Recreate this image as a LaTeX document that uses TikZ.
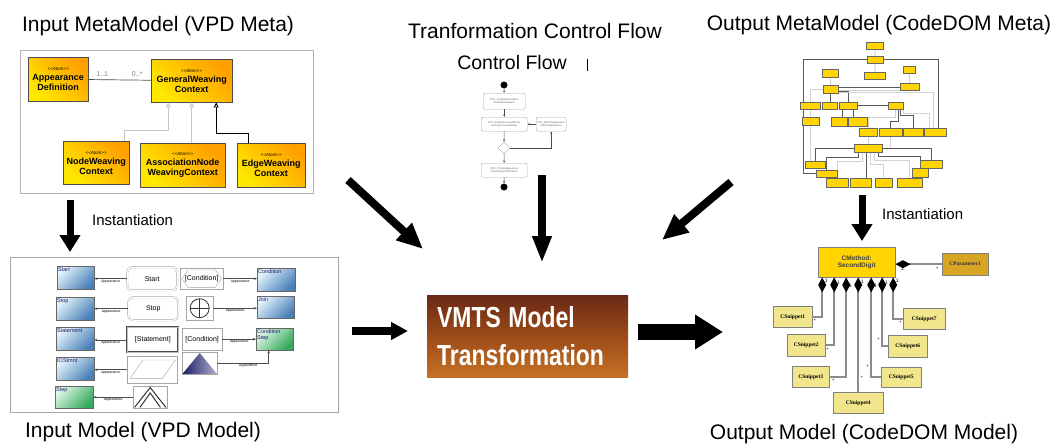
\documentclass[tikz,border=0pt]{standalone}
\usepackage{graphicx}
\usepackage{fontspec}
\setmainfont{Liberation Sans}
\newfontfamily\serifbox{Liberation Serif}
\usetikzlibrary{arrows.meta,shapes.geometric}

\definecolor{atomyel}{HTML}{FFE800}
\definecolor{atomorg}{HTML}{FFA000}
\definecolor{bluelt}{HTML}{E2F3FB}
\definecolor{bluedk}{HTML}{4A80B8}
\definecolor{grnlt}{HTML}{DDF7E6}
\definecolor{grndk}{HTML}{35A85A}
\definecolor{navy}{HTML}{1C1C6A}
\definecolor{brtop}{HTML}{6A2914}
\definecolor{brmid}{HTML}{9C4B19}
\definecolor{brbot}{HTML}{C47224}
\definecolor{gold}{HTML}{FFD400}
\definecolor{goldrod}{HTML}{D8A523}
\definecolor{khaki}{HTML}{F2E68C}
\definecolor{compgray}{HTML}{8C8C8C}

\newcommand{\atomtag}{{\fontsize{4.5}{5}\selectfont\mdseries\itshape <{}<Atom>{}>}}

\begin{document}
\begin{tikzpicture}[x=1pt,y=-1pt]
    \tikzstyle{title}=[font=\fontsize{21}{24}\selectfont,inner sep=0]
    \tikzstyle{box}=[anchor=north west,inner sep=0,align=center]
    \tikzstyle{atom}=[box,draw=black!70,top color=atomorg,bottom color=atomyel,shading angle=-45,font=\fontsize{9}{10}\selectfont\bfseries]
    \tikzstyle{inh}=[-{Triangle[open,width=5pt,length=5pt]},line width=0.9pt]
    \tikzstyle{shp}=[box,draw=gray!70,font=\fontsize{7}{8}\selectfont]
    \tikzstyle{app}=[-{Stealth[length=3pt,width=2.5pt]},draw=black!70,line width=0.6pt]
    \tikzstyle{applbl}=[font=\fontsize{3.5}{4}\selectfont,inner sep=0.6pt,below]
    \tikzstyle{cfbox}=[box,draw=gray!70,rounded corners=2pt,font=\fontsize{2.6}{3.4}\selectfont,text=gray!80!black]
    \tikzstyle{cfarr}=[-{Stealth[length=2.5pt,width=2pt]},draw=gray!60!black,line width=0.4pt]
    \tikzstyle{cdm}=[box,draw=black!60,fill=gold,line width=0.5pt]
    \tikzstyle{mline}=[draw=gray!70!black,line width=0.8pt]
    \tikzstyle{mlight}=[draw=gray!35,line width=1pt]
    \tikzstyle{snip}=[box,draw=gray,fill=khaki,font=\serifbox\fontsize{5.5}{6}\selectfont\bfseries]
    \tikzstyle{mult}=[font=\fontsize{5}{5}\selectfont,inner sep=1.5pt]
    \tikzstyle{inst}=[font=\fontsize{15}{16}\selectfont,anchor=west,inner sep=0]
    \tikzset{sz/.style 2 args={minimum width=#1pt,minimum height=#2pt},
      comp/.style={draw=compgray,line width=2.4pt,{Diamond[length=15pt,width=8pt,color=black]}-},
      vpd/.style={box,draw=black!60,top color=bluelt,bottom color=bluedk,shading angle=45,
        label={[anchor=north west,inner sep=1pt,font=\fontsize{5.5}{6}\selectfont,text=navy,align=left]north west:#1}},
      vpdg/.style={box,draw=black!60,top color=grnlt,bottom color=grndk,shading angle=45,
        label={[anchor=north west,inner sep=1pt,font=\fontsize{5.5}{6}\selectfont,text=navy,align=left]north west:#1}},
      big/.style n args={3}{line width=#1pt,-{Triangle[width=#2pt,length=#3pt]}}}

    \useasboundingbox (0,0) rectangle (1051,444);

    % titles
    \node[title] (tInMeta) at (158,26) {Input MetaModel (VPD Meta)};
    \node[title] (tCF) at (535,31) {Tranformation Control Flow};
    \node[title,font=\fontsize{19.5}{22}\selectfont] (tCF2) at (512,63) {Control Flow};
    \node[title] (tOutMeta) at (879,25) {Output MetaModel (CodeDOM Meta)};
    \node[title] (tInModel) at (143,432) {Input Model (VPD Model)};
    \node[title] (tOutModel) at (864,434) {Output Model (CodeDOM Model)};
    \draw[line width=0.8pt] (587,59) -- (587,71);

    % input metamodel
    \draw[gray!60,line width=0.8pt] (20,50) rectangle (313,193);
    \node[atom,sz={60}{44}] (appdef) at (28,57) {\atomtag\\Appearance\\Definition};
    \node[atom,sz={81}{43}] (genctx) at (151,59) {\atomtag\\GeneralWeaving\\Context};
    \node[atom,sz={66}{43}] (nodectx) at (63,141) {\atomtag\\NodeWeaving\\Context};
    \node[atom,sz={85}{44}] (assocctx) at (140,143) {\atomtag\\AssociationNode\\WeavingContext};
    \node[atom,sz={68}{44}] (edgectx) at (237,143) {\atomtag\\EdgeWeaving\\Context};

    \draw[black!70,line width=0.7pt] (appdef) -- (genctx)
        node[pos=0.22,above,font=\fontsize{7}{8}\selectfont,text=gray] {1..1}
        node[pos=0.78,above,font=\fontsize{7}{8}\selectfont,text=gray] {0..*};
    \draw[inh,gray!45] ([xshift=-5pt]nodectx.north east) -- ++(0,-11) -| ([xshift=-23.5pt]genctx.south);
    \draw[inh,gray!45] (genctx.south |- assocctx.north) -- (genctx.south);
    \draw[inh,black] ([xshift=-23pt]edgectx.north) -- ++(0,-10) -| ([xshift=24.5pt]genctx.south);

    \coordinate (iL1) at (70,200);
    \coordinate (iL2) at (70,252);
    \draw[big={7}{20}{17}] (iL1) -- (iL2);
    \node[inst] (instL) at (92,220) {Instantiation};

    % input model
    \draw[gray!70,line width=0.8pt] (10,257) rectangle (338,412);
    \node[vpd=Start,sz={37}{23}] (bStart) at (57,266) {};
    \node[shp,sz={50}{23},rounded corners=5pt,double=white,double distance=1.2pt] (rStart) at (127,267) {Start};
    \node[shp,sz={43}{21}] (hCond) at (180,268) {[Condition]};
    \draw[gray!70] ([xshift=2pt]hCond.west) -- ([xshift=8pt,yshift=-2pt]hCond.north west) -- ([xshift=-8pt,yshift=-2pt]hCond.north east) -- ([xshift=-2pt]hCond.east) -- ([xshift=-8pt,yshift=2pt]hCond.south east) -- ([xshift=8pt,yshift=2pt]hCond.south west) -- cycle;
    \node[vpd=Condition,sz={38}{23}] (bCond) at (257,268) {};
    \draw[app] (rStart.west) -- (rStart.west -| bStart.east) node[applbl,midway] {Appearance};
    \draw[app] (hCond.east) -- (hCond.east -| bCond.west) node[applbl,midway] {Appearance};

    \node[vpd=Stop,sz={38}{23}] (bStop) at (56,297) {};
    \node[shp,sz={50}{23},rounded corners=5pt,double=white,double distance=1.2pt] (rStop) at (128,297) {Stop};
    \node[shp,sz={27}{24}] (cJoin) at (186,296) {};
    \draw[black!80,line width=0.8pt] (cJoin.center) circle (9.5pt);
    \draw[black!80,line width=0.8pt] ([xshift=-9.5pt]cJoin.center) -- ([xshift=9.5pt]cJoin.center) ([yshift=-9.5pt]cJoin.center) -- ([yshift=9.5pt]cJoin.center);
    \node[vpd=Join,sz={37}{22}] (bJoin) at (257,296) {};
    \draw[app] (rStop.west) -- (rStop.west -| bStop.east) node[applbl,midway] {Appearance};
    \draw[app] (cJoin.east) -- (cJoin.east -| bJoin.west) node[applbl,midway] {Appearance};

    \node[vpd=Statement,sz={38}{23}] (bStmt) at (56,327) {};
    \node[shp,sz={51}{25},draw=black!70,line width=0.7pt,double=gray!50,double distance=0.5pt] (sStmt) at (127,327) {[Statement]};
    \node[shp,sz={40}{22}] (sCond) at (182,328) {[Condition]};
    \node[vpdg={Condition\\Step},sz={37}{22}] (gCondStep) at (256,328) {};
    \draw[app] (sStmt.west) -- (sStmt.west -| bStmt.east) node[applbl,midway] {Appearance};
    \draw[app] (sCond.east) -- (sCond.east -| gCondStep.west) node[applbl,midway] {Appearance};

    \node[vpd=IOStmnt,sz={38}{23}] (bIO) at (56,357) {};
    \node[shp,sz={50}{27}] (pIO) at (127,356) {};
    \draw[gray!70] ([xshift=3pt,yshift=5pt]pIO.south west) -- ([xshift=16pt,yshift=-4pt]pIO.north west) -- ([xshift=-2pt,yshift=-4pt]pIO.north east) -- ([xshift=-15pt,yshift=5pt]pIO.south east) -- cycle;
    \node[shp,sz={35}{22}] (tri) at (182,352) {};
    \shade[left color=navy,right color=navy!35] ([xshift=0.5pt,yshift=0.5pt]tri.south west) -- ([yshift=-1pt]tri.north) -- ([xshift=-0.5pt,yshift=0.5pt]tri.south east) -- cycle;
    \draw[app] (pIO.west) -- (pIO.west -| bIO.east) node[applbl,midway] {Appearance};
    \draw[app] (tri.east) -| ([xshift=-6pt]gCondStep.south) node[applbl,pos=0.3] {AppliedEnd};

    \node[vpdg=Step,sz={38}{22}] (gStep) at (55,386) {};
    \node[shp,sz={34}{22}] (chev) at (133,386) {};
    \draw[black!80,line width=1pt] ([xshift=1.5pt,yshift=1pt]chev.south west) -- ([yshift=-1.5pt]chev.north) -- ([xshift=-1.5pt,yshift=1pt]chev.south east);
    \draw[black!80,line width=1pt] ([xshift=7pt,yshift=1pt]chev.south west) -- ([yshift=-7pt]chev.north) -- ([xshift=-7pt,yshift=1pt]chev.south east);
    \draw[app] (chev.west) -- (chev.west -| gStep.east) node[applbl,midway] {Appearance};

    % control flow
    \node[circle,fill=black,minimum size=7pt,inner sep=0] (cfS) at (504,85) {};
    \node[cfbox,sz={42}{16}] (cf1) at (483,93) {VPD\_CreateNamespace\\CreateNamespace};
    \node[cfbox,sz={46}{14}] (cf2) at (481,117) {VPD\_GetUnprocessedNode\\GetUnprocessedNode};
    \node[cfbox,sz={30}{14}] (cf3) at (536,117) {VPD\_MatchAppearance\\MatchAppearance};
    \node[diamond,draw=gray!70,minimum size=12pt,inner sep=0] (cfD) at (504,148) {};
    \node[cfbox,sz={46}{14}] (cf4) at (481,163) {VPD\_CheckAppearance\\CheckAdaptInformation};
    \node[circle,fill=black,minimum size=7pt,inner sep=0] (cfE) at (504,187) {};
    \draw[cfarr] (cfS) -- (cf1);
    \draw[cfarr] (cf1) -- (cf2);
    \draw[cfarr] (cf2) -- (cfD);
    \draw[cfarr] (cfD) -- (cf4);
    \draw[cfarr] (cf4) -- (cfE);
    \draw[cfarr] (cf3) -- (cf2);
    \draw[cfarr] (cfD.east) -| (cf3.south);

    % transformation
    \node[box,top color=brtop,bottom color=brbot,middle color=brmid,sz={201}{82},text width=181pt,align=left,text=white,font=\fontsize{29}{38}\selectfont\bfseries] (vmts) at (427,295) {\scalebox{0.79}[1]{VMTS Model}\\\scalebox{0.79}[1]{Transformation}};

    \coordinate (dL1) at (348,180);
    \coordinate (dL2) at (423,249);
    \draw[big={8}{22}{26}] (dL1) -- (dL2);
    \coordinate (cfA1) at (542,175);
    \coordinate (cfA2) at (542,263);
    \draw[big={8}{18}{27}] (cfA1) -- (cfA2);
    \coordinate (dR1) at (731,182);
    \coordinate (dR2) at (662,240);
    \draw[big={8}{22}{26}] (dR1) -- (dR2);
    \coordinate (hL1) at (352,331);
    \coordinate (hL2) at (408,331);
    \draw[big={8}{17}{17}] (hL1) -- (hL2);
    \coordinate (hR1) at (638,332);
    \coordinate (hR2) at (723,332);
    \draw[big={16}{33}{28}] (hR1) -- (hR2);

    % output metamodel
    \node[cdm,sz={17}{7}] (m1) at (866,42) {};
    \node[cdm,sz={16}{7}] (m2) at (867,56) {};
    \node[cdm,sz={21}{7}] (m3) at (864,72) {};
    \node[cdm,sz={12}{7}] (m4) at (903,66) {};
    \node[cdm,sz={16}{8}] (m5) at (822,69) {};
    \node[cdm,sz={15}{8}] (m6) at (823,85) {};
    \node[cdm,sz={19}{7}] (m7) at (900,83) {};
    \node[cdm,sz={20}{7}] (m8) at (800,102) {};
    \node[cdm,sz={15}{7}] (m9) at (822,102) {};
    \node[cdm,sz={18}{7}] (m10) at (839,102) {};
    \node[cdm,sz={15}{7}] (m11) at (888,102) {};
    \node[cdm,sz={17}{8}] (m12) at (802,117) {};
    \node[cdm,sz={16}{9}] (m13) at (831,117) {};
    \node[cdm,sz={19}{9}] (m14) at (848,117) {};
    \node[cdm,sz={18}{8}] (m15) at (859,128) {};
    \node[cdm,sz={23}{8}] (m16) at (879,128) {};
    \node[cdm,sz={20}{8}] (m17) at (903,128) {};
    \node[cdm,sz={22}{8}] (m18) at (924,128) {};
    \node[cdm,sz={28}{8}] (m19) at (854,144) {};
    \node[cdm,sz={20}{7}] (m20) at (805,161) {};
    \node[cdm,sz={21}{7}] (m21) at (816,170) {};
    \node[cdm,sz={22}{9}] (m22) at (826,178) {};
    \node[cdm,sz={21}{9}] (m23) at (850,178) {};
    \node[cdm,sz={17}{9}] (m24) at (875,178) {};
    \node[cdm,sz={25}{9}] (m25) at (897,178) {};
    \node[cdm,sz={22}{8}] (m26) at (920,160) {};
    \node[cdm,sz={16}{9}] (m27) at (912,168) {};

    \draw[mlight] (m1) -- (m2);
    \draw[mlight] (m2) -- (m3);
    \draw[mline] (m2.west) -| ([xshift=3pt]m8.north west);
    \draw[mline] ([xshift=3pt]m8.south west) -- ([xshift=3pt]m8.south west |- m21.west) -- (m21.west);
    \draw[mline] (m2.east) -| ([xshift=3pt]m18.north);
    \draw[mlight] (m4) -- (m7);
    \draw[mline] ([yshift=1.5pt]m6.east) -- ([yshift=1.5pt]m6.east -| m7.west);
    \draw[mlight] ([yshift=-1.5pt]m6.east) -- ([yshift=-1.5pt]m6.east -| m7.west);
    \draw[mlight] (m5) -- (m6);
    \draw[mlight] (m6.west) -| (m8.north);
    \draw[mline] (m6.south) -- (m6.south |- m9.north);
    \draw[mline] ([yshift=2pt]m6.south east) -| (m10.north);
    \draw[mlight] ([yshift=-3pt]m6.east) -| ([xshift=-2pt]m18.north);
    \draw[mlight] (m8.south) -- (m8.south |- m12.north);
    \draw[mline] ([xshift=3pt]m10.south west) -- ([xshift=3pt]m10.south west |- m13.north);
    \draw[mline] ([xshift=-4pt]m10.south east) -- ([xshift=-4pt]m10.south east |- m14.north);
    \draw[mline] (m10.east) -- (m11.west);
    \draw[mlight] (m11.south) -- ++(0,8) -| (m15.north);
    \draw[mline] ([xshift=3pt]m11.south) -- ++(0,12) -| (m16.north);
    \draw[mline] ([xshift=5pt]m11.south) -- ++(0,6) -| (m17.north);
    \draw[mlight] (m11.south east) -- ++(0,4) -| ([xshift=-6pt]m18.north);
    \draw[mlight] (m15.south) -- (m15.south |- m19.north);
    \draw[mlight] (m16.south) |- (m19.east);
    \draw[mline] (m19.west) -| (m20.north);
    \draw[mlight] (m12.south) -- (m12.south |- m20.north);
    \draw[mline] ([xshift=-10pt]m19.south) -- ++(0,5) -| (m21.north);
    \draw[mlight] ([xshift=-6pt]m19.south) -- ++(0,9) -| (m22.north);
    \draw[mline] ([xshift=-2pt]m19.south) -- ([xshift=-2pt]m19.south |- m23.north);
    \draw[mlight] ([xshift=2pt]m19.south) -- ++(0,12) -| (m24.north);
    \draw[mlight] ([xshift=6pt]m19.south) -- ++(0,8) -| (m25.north);
    \draw[mline] ([xshift=10pt]m19.south) -- ++(0,4) -| (m27.north);
    \draw[mline] (m19.east) -| (m26.north);

    % redraw boxes above lines
    \foreach \m in {m1,m2,m3,m4,m5,m6,m7,m8,m9,m10,m11,m12,m13,m14,m15,m16,m17,m18,m19,m20,m21,m22,m23,m24,m25,m26,m27}
        \draw[black!60,fill=gold,line width=0.5pt] (\m.north west) rectangle (\m.south east);

    \coordinate (iR1) at (862,195);
    \coordinate (iR2) at (862,241);
    \draw[big={7}{20}{17}] (iR1) -- (iR2);
    \node[inst] (instR) at (882,214) {Instantiation};

    % output model
    \node[box,draw=gray,fill=gold,sz={77}{30},font=\fontsize{6.5}{7.5}\selectfont\bfseries,text=black!75] (cmeth) at (818,247) {CMethod:\\SecondDigit};
    \node[box,draw=gray,fill=goldrod,sz={46}{22},font=\serifbox\fontsize{5.5}{6}\selectfont\bfseries,text=black!80] (cparam) at (942,253) {CParameter1};
    \node[snip,sz={39}{21}] (sn1) at (773,306) {CSnippet1};
    \node[snip,sz={38}{22}] (sn2) at (787,334) {CSnippet2};
    \node[snip,sz={37}{21}] (sn3) at (792,366) {CSnippet3};
    \node[snip,sz={50}{21}] (sn4) at (833,392) {CSnippet4};
    \node[snip,sz={40}{20}] (sn5) at (881,367) {CSnippet5};
    \node[snip,sz={39}{22}] (sn6) at (888,335) {CSnippet6};
    \node[snip,sz={42}{21}] (sn7) at (903,308) {CSnippet7};

    \draw[comp] (cmeth.east |- cparam.west) -- (cparam.west) node[mult,pos=0.15,below] {1} node[mult,pos=0.9,below] {*};
    \draw[comp] ([xshift=-34.5pt]cmeth.south) |- (sn1.east) node[mult,pos=0.04,right] {1} node[mult,pos=0.88,below] {*};
    \draw[comp] ([xshift=-22.5pt]cmeth.south) |- (sn2.east) node[mult,pos=0.04,right] {1} node[mult,pos=0.88,below] {*};
    \draw[comp] ([xshift=-10.5pt]cmeth.south) |- (sn3.east) node[mult,pos=0.04,right] {1} node[mult,pos=0.88,below] {*};
    \draw[comp] ([xshift=1.5pt]cmeth.south) -- ([xshift=1.5pt]cmeth.south |- sn4.north) node[mult,pos=0.04,right] {1} node[mult,pos=0.88,right] {*};
    \draw[comp] ([xshift=14.5pt]cmeth.south) |- (sn5.west) node[mult,pos=0.04,right] {1} node[mult,pos=0.45,left] {*};
    \draw[comp] ([xshift=25.5pt]cmeth.south) |- (sn6.west) node[mult,pos=0.04,right] {1} node[mult,pos=0.45,left] {*};
    \draw[comp] ([xshift=36.5pt]cmeth.south) |- (sn7.west) node[mult,pos=0.04,right] {1} node[mult,pos=0.88,below] {*};
\end{tikzpicture}
\end{document}
